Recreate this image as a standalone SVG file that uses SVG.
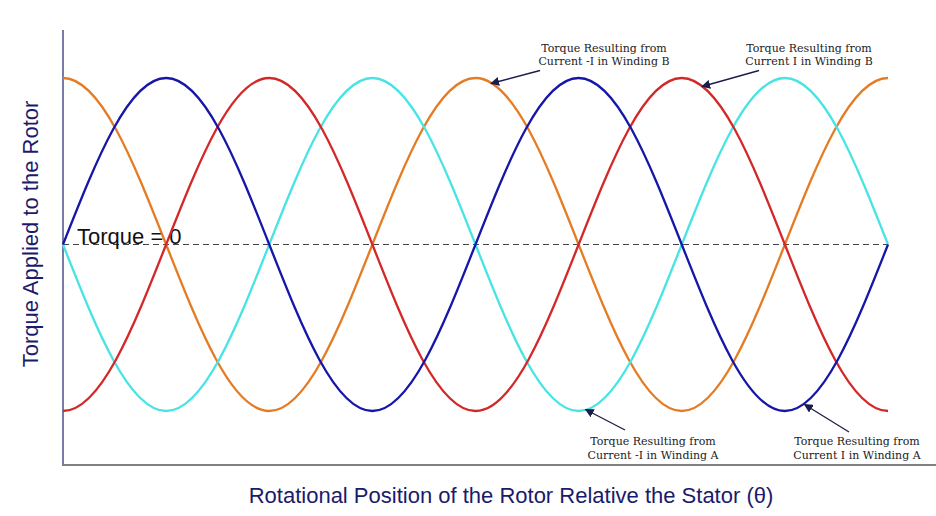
<svg xmlns="http://www.w3.org/2000/svg" width="936" height="516" viewBox="0 0 936 516">
<style>
.curve{fill:none;stroke-width:2.3;stroke-linejoin:round}
.ax{font-family:"Liberation Sans",Arial,sans-serif;font-size:22px;fill:#1b1b6b}
.note{font-family:"DejaVu Serif","Liberation Serif",serif;font-size:11px;fill:#222;text-anchor:middle}
.arr{stroke:#1c1c4c;stroke-width:1.3;fill:none;marker-end:url(#ah)}
</style>
<defs>
<marker id="ah" viewBox="0 0 10 10" refX="9" refY="5" markerWidth="9" markerHeight="9" markerUnits="userSpaceOnUse" orient="auto">
<path d="M0,0 L10,5 L0,10 z" fill="#1c1c4c"/>
</marker>
</defs>
<rect width="936" height="516" fill="#ffffff"/>
<g id="axes">
<line x1="63" y1="30" x2="63" y2="465" stroke="#7a7aa6" stroke-width="2"/>
<line x1="62" y1="465" x2="936" y2="465" stroke="#808080" stroke-width="2.2"/>
</g>
<g id="zero-line">
<line x1="63" y1="244.5" x2="888" y2="244.5" stroke="#444" stroke-width="1" stroke-dasharray="6,4"/>
<text x="77" y="243.5" font-family="Liberation Sans,Arial,sans-serif" font-size="22" fill="#111">Torque = 0</text>
</g>
<g id="curves">
<path id="orange" class="curve" stroke="#e57c24" d="M63,78 c37.321,0 69.492,81.2 103.125,166.5 c33.633,85.3 65.804,166.5 103.125,166.5 c37.321,0 69.492,-81.2 103.125,-166.5 c33.633,-85.3 65.804,-166.5 103.125,-166.5 c37.321,0 69.492,81.2 103.125,166.5 c33.633,85.3 65.804,166.5 103.125,166.5 c37.321,0 69.492,-81.2 103.125,-166.5 c33.633,-85.3 65.804,-166.5 103.125,-166.5"/>
<path id="cyan" class="curve" stroke="#48e4e4" d="M63,244.5 c33.633,85.3 65.804,166.5 103.125,166.5 c37.321,0 69.492,-81.2 103.125,-166.5 c33.633,-85.3 65.804,-166.5 103.125,-166.5 c37.321,0 69.492,81.2 103.125,166.5 c33.633,85.3 65.804,166.5 103.125,166.5 c37.321,0 69.492,-81.2 103.125,-166.5 c33.633,-85.3 65.804,-166.5 103.125,-166.5 c37.321,0 69.492,81.2 103.125,166.5"/>
<path id="red" class="curve" stroke="#d42828" d="M63,411 c37.321,0 69.492,-81.2 103.125,-166.5 c33.633,-85.3 65.804,-166.5 103.125,-166.5 c37.321,0 69.492,81.2 103.125,166.5 c33.633,85.3 65.804,166.5 103.125,166.5 c37.321,0 69.492,-81.2 103.125,-166.5 c33.633,-85.3 65.804,-166.5 103.125,-166.5 c37.321,0 69.492,81.2 103.125,166.5 c33.633,85.3 65.804,166.5 103.125,166.5"/>
<path id="blue" class="curve" stroke="#1616a8" d="M63,244.5 c33.633,-85.3 65.804,-166.5 103.125,-166.5 c37.321,0 69.492,81.2 103.125,166.5 c33.633,85.3 65.804,166.5 103.125,166.5 c37.321,0 69.492,-81.2 103.125,-166.5 c33.633,-85.3 65.804,-166.5 103.125,-166.5 c37.321,0 69.492,81.2 103.125,166.5 c33.633,85.3 65.804,166.5 103.125,166.5 c37.321,0 69.492,-81.2 103.125,-166.5"/>
</g>
<g id="connectors">
<line class="arr" x1="540" y1="70.5" x2="491" y2="83.5"/>
<line class="arr" x1="759" y1="70.5" x2="702" y2="86.5"/>
<line class="arr" x1="625" y1="430" x2="585.5" y2="409.5"/>
<line class="arr" x1="849" y1="432" x2="804.5" y2="404.5"/>
</g>
<g id="label-neg-b">
<text class="note" x="604" y="51.5">Torque Resulting from</text>
<text class="note" x="604" y="65">Current -I in Winding B</text>
</g>
<g id="label-pos-b">
<text class="note" x="809" y="51.5">Torque Resulting from</text>
<text class="note" x="809" y="65">Current I in Winding B</text>
</g>
<g id="label-neg-a">
<text class="note" x="653" y="444.5">Torque Resulting from</text>
<text class="note" x="653" y="458.5">Current -I in Winding A</text>
</g>
<g id="label-pos-a">
<text class="note" x="857" y="444.5">Torque Resulting from</text>
<text class="note" x="857" y="458.5">Current I in Winding A</text>
</g>
<g id="axis-labels">
<text class="ax" x="511" y="503" text-anchor="middle">Rotational Position of the Rotor Relative the Stator (θ)</text>
<text class="ax" transform="translate(38,234) rotate(-90)" text-anchor="middle">Torque Applied to the Rotor</text>
</g>
</svg>
